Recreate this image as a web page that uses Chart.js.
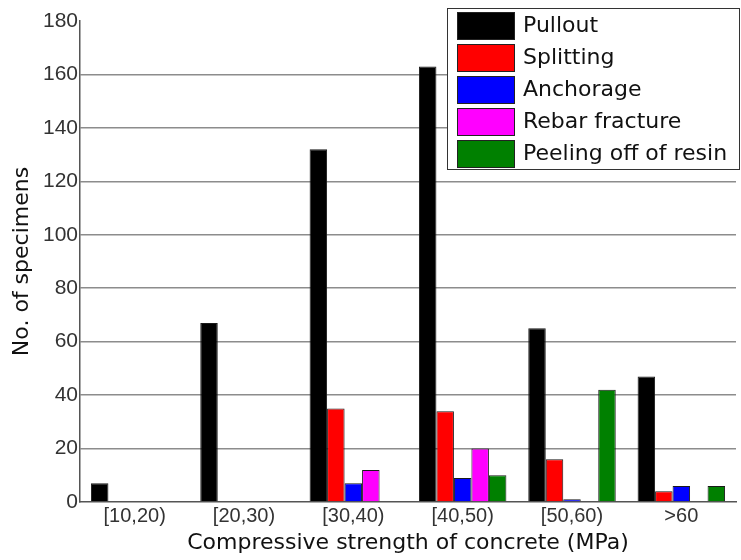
<!DOCTYPE html>
<html>
<head>
<meta charset="utf-8">
<script src="https://cdn.jsdelivr.net/npm/chart.js@4/dist/chart.umd.min.js"></script>
<style>
  html, body { margin: 0; padding: 0; background: #ffffff; }
  #wrap { width: 741px; height: 560px; }
</style>
</head>
<body>
<div id="wrap"><canvas id="c" width="741" height="560"></canvas></div>
<script>
// Concrete strength classes (MPa)
const categories = ['[10,20)', '[20,30)', '[30,40)', '[40,50)', '[50,60)', '>60'];

// Number of specimens per failure mode
const pullout   = [7, 67, 132, 163, 65, 47];
const splitting = [0, 0, 35, 34, 16, 4];
const anchorage = [0, 0, 7, 9, 1, 6];
const rebarFracture = [0, 0, 12, 20, 0, 0];
const peelingResin  = [0, 0, 0, 10, 42, 6];

const seriesNames = ['Pullout', 'Splitting', 'Anchorage', 'Rebar fracture', 'Peeling off of resin'];
const seriesValues = [pullout, splitting, anchorage, rebarFracture, peelingResin];
const seriesColors = ['#000000', '#ff0000', '#0000ff', '#ff00ff', '#008000'];

const yTicks = [0, 20, 40, 60, 80, 100, 120, 140, 160, 180];

const titleFont = { family: '"DejaVu Sans", sans-serif', size: 22 };
const tickFont = { family: '"Liberation Sans", Arial, sans-serif', size: 21 };

// Boxed legend drawn over the upper right of the plot
const boxedLegend = {
  id: 'boxedLegend',
  afterDraw(chart) {
    const ctx = chart.ctx;
    const bx = chart.width - 294, by = 8, bw = 293, bh = 162;
    ctx.save();
    ctx.fillStyle = '#ffffff';
    ctx.fillRect(bx, by, bw, bh);
    ctx.strokeStyle = '#333333';
    ctx.lineWidth = 1;
    ctx.strokeRect(bx + 0.5, by + 0.5, bw - 1, bh - 1);
    ctx.font = '22px "DejaVu Sans", sans-serif';
    ctx.textBaseline = 'middle';
    ctx.textAlign = 'left';
    chart.data.datasets.forEach((ds, i) => {
      const sy = by + 4 + i * 32;
      ctx.fillStyle = ds.backgroundColor;
      ctx.fillRect(bx + 10, sy, 58, 28);
      ctx.strokeStyle = '#222222';
      ctx.strokeRect(bx + 10.5, sy + 0.5, 57, 27);
      ctx.fillStyle = '#111111';
      ctx.fillText(ds.label, bx + 76, sy + 14);
    });
    ctx.restore();
  }
};

new Chart(document.getElementById('c'), {
  type: 'bar',
  data: {
    labels: categories,
    datasets: seriesNames.map((name, i) => ({
      label: name,
      data: seriesValues[i],
      backgroundColor: seriesColors[i],
      borderColor: '#1a1a1a',
      borderWidth: 1,
      categoryPercentage: 0.8,
      barPercentage: 1.0
    }))
  },
  options: {
    responsive: false,
    animation: false,
    layout: { padding: { top: 21, right: 5, left: 0, bottom: 0 } },
    plugins: {
      legend: { display: false },
      tooltip: { enabled: false }
    },
    scales: {
      x: {
        grid: { display: false, drawTicks: false },
        border: { display: true, color: '#555555', width: 1.5 },
        ticks: { font: { family: tickFont.family, size: 20 }, color: '#333333', padding: 2, maxRotation: 0 },
        title: {
          display: true,
          text: 'Compressive strength of concrete (MPa)',
          font: titleFont,
          color: '#111111',
          padding: { top: 0, bottom: 4 }
        },
        afterFit(scale) { scale.height = 58; }
      },
      y: {
        min: 0,
        max: 180,
        afterBuildTicks(scale) { scale.ticks = yTicks.map(v => ({ value: v })); },
        grid: {
          drawTicks: false,
          color: ctx => (ctx.tick && (ctx.tick.value === 0 || ctx.tick.value === 180)) ? 'rgba(0,0,0,0)' : '#8c8c8c',
          lineWidth: 1.5
        },
        border: { display: true, color: '#555555', width: 1.5 },
        ticks: { font: tickFont, color: '#333333', padding: 2 },
        title: {
          display: true,
          text: 'No. of specimens',
          font: titleFont,
          color: '#111111',
          padding: { top: 9, bottom: 0 }
        },
        afterFit(scale) { scale.width = 80; }
      }
    }
  },
  plugins: [boxedLegend]
});
</script>
</body>
</html>
